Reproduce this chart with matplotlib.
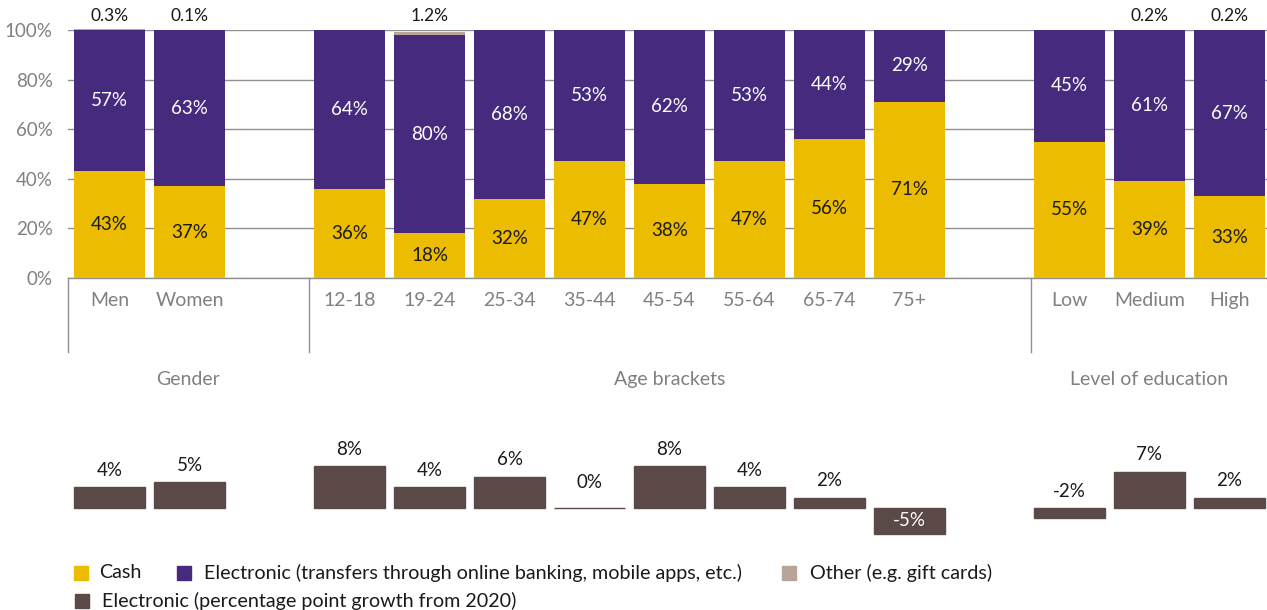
import matplotlib
matplotlib.use("Agg")
import matplotlib.pyplot as plt
from matplotlib.patches import Rectangle
from matplotlib import transforms

plt.rcParams['font.family'] = ['Lato', 'DejaVu Sans']

# ---- data -------------------------------------------------------------
categories = ["Men", "Women",
              "12-18", "19-24", "25-34", "35-44", "45-54", "55-64", "65-74", "75+",
              "Low", "Medium", "High"]
slots = [0, 1, 3, 4, 5, 6, 7, 8, 9, 10, 12, 13, 14]

cash =       [43, 37, 36, 18, 32, 47, 38, 47, 56, 71, 55, 39, 33]
electronic = [57, 63, 64, 80, 68, 53, 62, 53, 44, 29, 45, 61, 67]
other =      [0.3, 0.1, 0, 1.2, 0, 0, 0, 0, 0, 0, 0, 0.2, 0.2]
growth =     [4, 5, 8, 4, 6, 0, 8, 4, 2, -5, -2, 7, 2]

groups = ["Gender", "Age brackets", "Level of education"]
group_bounds = [(-0.52, 2.49), (2.49, 11.52), (11.52, 14.47)]

y_ticks = [0, 20, 40, 60, 80, 100]

legend_items = ["Cash",
                "Electronic (transfers through online banking, mobile apps, etc.)",
                "Other (e.g. gift cards)",
                "Electronic (percentage point growth from 2020)"]

# ---- style ------------------------------------------------------------
C_CASH = "#EBBC00"
C_ELEC = "#452A7E"
C_OTHER = "#B9A597"
C_GROWTH = "#5A4947"
C_GRID = "#909090"
C_TICK = "#808080"
C_TEXT = "#1a1a1a"

W, H = 1267, 610
fig = plt.figure(figsize=(W / 100, H / 100), dpi=100)

def fx(px):
    return px / W

def fy(py):
    return 1 - py / H

# ---- main stacked chart -----------------------------------------------
ax = fig.add_axes([fx(68), fy(278), fx(1267 - 68), (278 - 30) / H])
ax.set_xlim(-0.52, 14.47)
ax.set_ylim(0, 100)
bw = 0.89

bottom_other = [c + e for c, e in zip(cash, electronic)]
ax.bar(slots, cash, width=bw, color=C_CASH, zorder=3, clip_on=False)
ax.bar(slots, electronic, bottom=cash, width=bw, color=C_ELEC, zorder=3, clip_on=False)
ax.bar(slots, other, bottom=bottom_other, width=bw, color=C_OTHER, zorder=3, clip_on=False)

for s, c, e, o in zip(slots, cash, electronic, other):
    ax.text(s, c / 2, f"{c}%", ha="center", va="center", fontsize=13.5,
            color=C_TEXT, zorder=4)
    ax.text(s, c + e / 2, f"{e}%", ha="center", va="center", fontsize=13.5,
            color="white", zorder=4)
    if o > 0:
        ax.text(s, 102.5, f"{o}%", ha="center", va="bottom", fontsize=12.5,
                color=C_TEXT, zorder=4, clip_on=False)

ax.set_yticks(y_ticks)
ax.set_yticklabels([f"{t}%" for t in y_ticks], fontsize=13.5, color=C_TICK)
ax.tick_params(axis="y", length=0, pad=11)
ax.set_xticks([])
ax.grid(axis="y", color=C_GRID, linewidth=1, zorder=0)
for side in ("top", "right", "left"):
    ax.spines[side].set_visible(False)
ax.spines["bottom"].set_color(C_GRID)
ax.spines["bottom"].set_linewidth(1)

# category labels, group separators and group titles
trans = transforms.blended_transform_factory(ax.transData, ax.transAxes)
for s, name in zip(slots, categories):
    ax.text(s, -0.092, name, transform=trans, ha="center", va="center",
            fontsize=14, color=C_TICK)
for xb in (group_bounds[0][0], group_bounds[1][0], group_bounds[2][0]):
    ax.plot([xb, xb], [0, -0.298], transform=trans, color=C_GRID,
            linewidth=1, clip_on=False)
for name, (a, b) in zip(groups, group_bounds):
    ax.text((a + b) / 2, -0.41, name, transform=trans, ha="center",
            va="center", fontsize=14, color=C_TICK)

# ---- growth chart -----------------------------------------------------
px_per_pt = 5.2
ax2 = fig.add_axes([fx(68), fy(545), fx(1267 - 68), (545 - 440) / H])
ax2.set_xlim(-0.52, 14.47)
ax2.set_ylim(-(545 - 508) / px_per_pt, (508 - 440) / px_per_pt)
ax2.bar(slots, growth, width=bw, color=C_GROWTH, edgecolor=C_GROWTH,
        linewidth=1)
for s, g in zip(slots, growth):
    if g < -3:
        ax2.text(s, g / 2, f"{g}%", ha="center", va="center", fontsize=13.5,
                 color="white")
    else:
        top = max(g, 0)
        lift = 3.2 if g == 0 else 1.6
        ax2.text(s, top + lift, f"{g}%", ha="center", va="bottom",
                 fontsize=13.5, color=C_TEXT)
ax2.axis("off")

# ---- legend -----------------------------------------------------------
legend_layout = [
    (C_CASH, 74, 566, 99, legend_items[0]),
    (C_ELEC, 177, 566, 204, legend_items[1]),
    (C_OTHER, 782, 566, 810, legend_items[2]),
    (C_GROWTH, 75, 594, 102, legend_items[3]),
]
for col, sx, sy, tx, label in legend_layout:
    fig.patches.append(Rectangle((fx(sx), fy(sy + 14)), fx(14), 14 / H,
                                 transform=fig.transFigure, color=col))
    fig.text(fx(tx), fy(sy + 7), label, ha="left", va="center",
             fontsize=14.2, color=C_TEXT)

fig.savefig("out.png", dpi=100)
